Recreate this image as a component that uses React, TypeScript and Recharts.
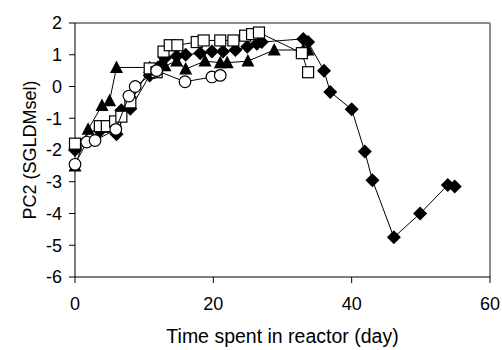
import React from 'react';
import {
  ScatterChart,
  Scatter,
  XAxis,
  YAxis,
  ReferenceLine,
  Label,
} from 'recharts';

// days in reactor / PC2 score
const diamondDays = [0, 3.6, 6, 6.7, 8, 10.8, 11.5, 12, 13, 14.7, 16, 18.1, 19.8, 21.4, 23.2, 24.9, 26.3, 27, 33, 33.7, 36, 36.9, 40, 41.9, 43, 46.1, 49.9, 53.9, 54.9];
const diamondPC2 = [-2.0, -1.4, -1.5, -0.75, -0.7, 0.35, 0.45, 0.6, 0.9, 0.95, 1.0, 1.05, 1.1, 1.1, 1.15, 1.25, 1.35, 1.4, 1.5, 1.4, 0.5, -0.17, -0.72, -2.05, -2.95, -4.75, -4.0, -3.1, -3.15];

const triangleDays = [0, 1.9, 3.9, 5, 6, 10.8, 11.8, 12.5, 13, 14.7, 16, 18.8, 21, 22, 25, 28.8, 33, 33.7];
const trianglePC2 = [-2.5, -1.35, -0.6, -0.45, 0.6, 0.6, 0.55, 0.75, 0.65, 0.8, 0.55, 0.8, 0.75, 0.75, 0.8, 1.15, 1.15, 1.15];

const squareDays = [0, 3.6, 4.6, 5.8, 6.7, 8, 10.8, 11.8, 12.8, 13.7, 14.8, 17.6, 18.6, 21, 22.9, 24.6, 25.6, 26.6, 32.8, 33.7];
const squarePC2 = [-1.8, -1.25, -1.25, -1.1, -0.95, -0.5, 0.57, 0.45, 1.1, 1.3, 1.3, 1.4, 1.45, 1.45, 1.45, 1.6, 1.65, 1.7, 1.05, 0.45];

const circleDays = [0, 1.7, 2.9, 5.9, 7.8, 8.7, 11.8, 15.9, 19.8, 21];
const circlePC2 = [-2.45, -1.75, -1.7, -1.35, -0.3, 0, 0.5, 0.15, 0.3, 0.35];

const xTicks = [0, 20, 40, 60];
const yTicks = [-6, -5, -4, -3, -2, -1, 0, 1, 2];

const toPoints = (xs: number[], ys: number[]) => xs.map((x, i) => ({ x, y: ys[i] }));

const FONT = 'Liberation Sans, Arial, sans-serif';

const Diamond = (p: any) => (
  <polygon
    points={`${p.cx},${p.cy - 7} ${p.cx + 7},${p.cy} ${p.cx},${p.cy + 7} ${p.cx - 7},${p.cy}`}
    fill="#000"
  />
);
const Triangle = (p: any) => (
  <polygon
    points={`${p.cx},${p.cy - 7} ${p.cx + 6.5},${p.cy + 5.5} ${p.cx - 6.5},${p.cy + 5.5}`}
    fill="#000"
  />
);
const Square = (p: any) => (
  <rect x={p.cx - 5.5} y={p.cy - 5.5} width={11} height={11} fill="#fff" stroke="#000" strokeWidth={1.2} />
);
const Circle = (p: any) => (
  <circle cx={p.cx} cy={p.cy} r={5.8} fill="#fff" stroke="#000" strokeWidth={1.2} />
);

const lineStyle = { stroke: '#000', strokeWidth: 1 };

export default function App() {
  return (
    <div style={{ position: 'absolute', left: 0, top: 0, background: '#fff' }}>
      <ScatterChart
        width={502}
        height={350}
        margin={{ top: 23, right: 12, left: 0, bottom: 0 }}
        style={{ fontFamily: FONT }}
      >
        <XAxis
          type="number"
          dataKey="x"
          domain={[0, 60]}
          ticks={xTicks}
          interval={0}
          height={73}
          tickSize={6}
          tickMargin={14}
          stroke="#000"
          tick={{ fill: '#000', fontSize: 18, fontFamily: FONT }}
        >
          <Label
            value="Time spent in reactor (day)"
            position="insideBottom"
            offset={7}
            style={{ fill: '#000', fontSize: 19.5, fontFamily: FONT }}
          />
        </XAxis>
        <YAxis
          type="number"
          dataKey="y"
          domain={[-6, 2]}
          ticks={yTicks}
          interval={0}
          width={75}
          tickSize={6}
          tickMargin={7}
          stroke="#000"
          tick={{ fill: '#000', fontSize: 18, fontFamily: FONT }}
        >
          <Label
            value="PC2 (SGLDMsel)"
            angle={-90}
            position="insideLeft"
            offset={30}
            style={{ fill: '#000', fontSize: 18, fontFamily: FONT, textAnchor: 'middle' }}
          />
        </YAxis>
        <ReferenceLine y={2} stroke="#8c8c8c" strokeWidth={2} />
        <ReferenceLine x={60} stroke="#8c8c8c" strokeWidth={2} />
        <Scatter data={toPoints(diamondDays, diamondPC2)} line={lineStyle} shape={Diamond} isAnimationActive={false} />
        <Scatter data={toPoints(triangleDays, trianglePC2)} line={lineStyle} shape={Triangle} isAnimationActive={false} />
        <Scatter data={toPoints(squareDays, squarePC2)} line={lineStyle} shape={Square} isAnimationActive={false} />
        <Scatter data={toPoints(circleDays, circlePC2)} line={lineStyle} shape={Circle} isAnimationActive={false} />
      </ScatterChart>
    </div>
  );
}
